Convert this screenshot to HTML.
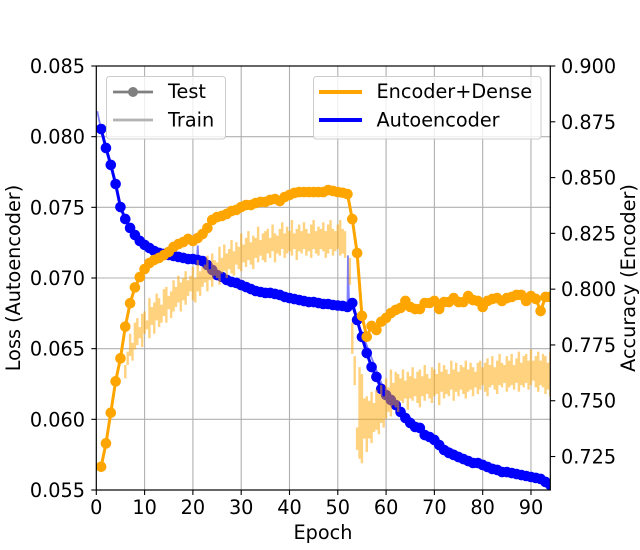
<!DOCTYPE html>
<html>
<head>
<meta charset="utf-8">
<title>Loss and accuracy chart</title>
<style>
html,body{margin:0;padding:0;background:#fff;}
svg{display:block;}
text{font-family:"DejaVu Sans","Liberation Sans",sans-serif;font-size:19.25px;fill:#000;}
</style>
</head>
<body>
<svg id="chart" width="640" height="550" viewBox="0 0 640 550" xmlns="http://www.w3.org/2000/svg">
  <defs><clipPath id="plot-clip"><rect x="96.3" y="66" width="454" height="424"/></clipPath></defs>
  <g id="grid"></g>
  <g id="marks" clip-path="url(#plot-clip)"></g>
  <g id="axes"></g>
  <g>
    <rect x="106.5" y="76.5" width="119" height="62.5" rx="3" fill="#fff" fill-opacity="0.8" stroke="#ccc" stroke-width="1"/>
    <line x1="113" x2="153" y1="92" y2="92" stroke="#808080" stroke-width="2.7"/>
    <circle cx="133" cy="92" r="5" fill="#808080"/>
    <text x="168" y="98">Test</text>
    <line x1="113" x2="153" y1="120" y2="120" stroke="#b3b3b3" stroke-width="2.7"/>
    <text x="168" y="126.5">Train</text>
  </g>
  <g>
    <rect x="313.5" y="76.5" width="227.5" height="62.5" rx="3" fill="#fff" fill-opacity="0.8" stroke="#ccc" stroke-width="1"/>
    <line x1="319" x2="362" y1="92" y2="92" stroke="#ffa500" stroke-width="4"/>
    <text x="376.5" y="98">Encoder+Dense</text>
    <line x1="319" x2="362" y1="120" y2="120" stroke="#0000ff" stroke-width="4"/>
    <text x="376.5" y="126.5">Autoencoder</text>
  </g>
  <text x="323" y="539" text-anchor="middle">Epoch</text>
  <text transform="translate(20 278) rotate(-90)" text-anchor="middle">Loss (Autoencoder)</text>
  <text transform="translate(635 278) rotate(-90)" text-anchor="middle">Accuracy (Encoder)</text>
</svg>
<script>
const xTicks = [0,10,20,30,40,50,60,70,80,90];
const lossTicks = ["0.055","0.060","0.065","0.070","0.075","0.080","0.085"];
const accTicks = ["0.725","0.750","0.775","0.800","0.825","0.850","0.875","0.900"];

const lossTest = [.08054,.0792,.078,.07665,.07502,.07417,.07354,.07304,.07262,.07234,
.07212,.07191,.07177,.0717,.07163,.07156,.07149,.07142,.07134,.07134,
.07127,.0712,.07092,.07057,.07021,.07007,.06986,.06972,.06965,.0695,
.06936,.06922,.06908,.06901,.06894,.06894,.06887,.0688,.06866,.06858,
.06851,.06844,.06837,.0683,.0683,.06823,.06816,.06816,.06809,.06805,
.06802,.06795,.06823,.06703,.06583,.06469,.0637,.063,.06215,.06172,
.06137,.06101,.06052,.06009,.05974,.05946,.05939,.05889,.05875,.05854,
.05818,.05783,.05762,.05748,.05733,.05719,.05705,.05691,.05691,.05677,
.05663,.05649,.05642,.05627,.05627,.0562,.05613,.05606,.05599,.05592,
.05585,.05578,.05557,.05535];

const accTest = [.7204,.7309,.7446,.7587,.769,.7832,.7937,.8008,.8054,.809,
.8117,.8131,.814,.8153,.8167,.8189,.8202,.8211,.8225,.8216,
.8229,.8247,.8274,.831,.8323,.8328,.8337,.835,.8355,.8368,
.8377,.8377,.8386,.8391,.8391,.84,.8404,.8395,.8413,.8422,
.8431,.8435,.8435,.8435,.8435,.8435,.8435,.8444,.844,.8435,
.8432,.8426,.8314,.8162,.788,.7787,.7835,.7817,.7854,.7871,
.7893,.7907,.7916,.7947,.792,.7911,.7911,.7938,.7938,.7947,
.7911,.7942,.7942,.796,.7942,.7942,.7969,.7951,.7947,.792,
.7947,.7956,.796,.7947,.796,.7965,.7974,.7974,.7947,.7969,
.7956,.7902,.7965,.7965];

const trainLossEpochs = [0.2,1,3,5,7,10,15,20,20.8,21,21.2,30,40,52,52.1,52.3,54,60,70,80,94];
const trainLossValues = [.0818,.0805,.078,.075,.0735,.0723,.0716,.0713,.0712,.0723,.0711,.0695,.0686,.068,.0716,.0686,.067,.0617,.0585,.0568,.0553];

const trainEpochsBeforeDrop = [6,6.5,7,7.5,8,8.5,9,9.5,10,10.5,11,11.5,12,12.5,13,13.5,14,14.5,15,15.5,16,16.5,17,17.5,18,18.5,19,19.5,20,20.5,21,21.5,22,22.5,23,23.5,24,24.5,25,25.5,26,26.5,27,27.5,28,28.5,29,29.5,30,30.5,31,31.5,32,32.5,33,33.5,34,34.5,35,35.5,36,36.5,37,37.5,38,38.5,39,39.5,40,40.5,41,41.5,42,42.5,43,43.5,44,44.5,45,45.5,46,46.5,47,47.5,48,48.5,49,49.5,50,50.5,51,51.5];
const trainHighBeforeDrop = [.766,.772,.780,.776,.785,.787,.783,.789,.790,.786,
.796,.792,.794,.798,.796,.793,.800,.801,.797,.799,
.804,.801,.806,.803,.805,.808,.804,.806,.810,.805,
.813,.808,.810,.811,.815,.809,.816,.813,.812,.819,
.814,.820,.816,.818,.822,.817,.821,.819,.825,.820,
.823,.826,.821,.824,.823,.828,.822,.825,.826,.827,
.823,.829,.825,.824,.827,.830,.825,.828,.826,.831,
.825,.827,.829,.826,.830,.827,.825,.829,.831,.826,
.828,.827,.830,.826,.829,.831,.827,.826,.829,.831,
.827,.826];
const trainLowBeforeDrop = [.760,.766,.770,.768,.773,.775,.778,.774,.780,.782,
.778,.784,.780,.786,.783,.785,.788,.785,.791,.787,
.790,.792,.794,.790,.795,.793,.797,.799,.795,.794,
.799,.797,.801,.803,.799,.804,.801,.806,.805,.802,
.807,.808,.805,.809,.807,.806,.811,.809,.808,.812,
.810,.813,.811,.809,.814,.812,.815,.813,.812,.816,
.814,.817,.812,.816,.815,.818,.814,.816,.817,.815,
.818,.813,.817,.816,.818,.815,.817,.814,.818,.816,
.815,.818,.817,.814,.816,.818,.815,.817,.818,.815,
.816,.814];

const trainEpochsAfterDrop = [52.5,53,53.5,54,54.5,55,55.5,56,56.5,57,57.5,58,58.5,59,59.5,60,60.5,61,61.5,62,62.5,63,63.5,64,64.5,65,65.5,66,66.5,67,67.5,68,68.5,69,69.5,70,70.5,71,71.5,72,72.5,73,73.5,74,74.5,75,75.5,76,76.5,77,77.5,78,78.5,79,79.5,80,80.5,81,81.5,82,82.5,83,83.5,84,84.5,85,85.5,86,86.5,87,87.5,88,88.5,89,89.5,90,90.5,91,91.5,92,92.5,93,93.5,94];
const trainHighAfterDrop = [.814,.785,.770,.738,.765,.762,.751,.752,.750,.754,
.749,.755,.753,.757,.752,.760,.756,.764,.758,.763,
.762,.760,.764,.759,.763,.761,.765,.760,.763,.764,
.761,.766,.762,.760,.765,.764,.762,.767,.763,.766,
.764,.762,.768,.764,.767,.763,.766,.765,.768,.764,
.767,.765,.763,.767,.768,.765,.767,.769,.766,.770,
.765,.768,.771,.767,.766,.770,.768,.771,.766,.769,
.772,.767,.770,.771,.768,.773,.768,.770,.772,.768,
.771,.770,.767,.772];
const trainLowAfterDrop = [.802,.771,.757,.728,.724,.722,.733,.727,.733,.731,
.736,.737,.735,.740,.738,.742,.745,.743,.748,.747,
.745,.750,.749,.751,.746,.751,.750,.752,.749,.747,
.752,.750,.753,.751,.749,.752,.753,.748,.754,.751,
.753,.752,.755,.750,.754,.752,.755,.753,.751,.754,
.755,.752,.756,.753,.755,.757,.754,.752,.756,.757,
.755,.753,.757,.756,.758,.754,.756,.757,.755,.758,
.754,.757,.756,.758,.755,.757,.759,.756,.754,.757,
.756,.753,.755,.752];

const SVGNS = "http://www.w3.org/2000/svg";
const plotLeft = 96.3, plotRight = 550.3, plotTop = 66, plotBottom = 490;
const xMin = 0, xMax = 94, lossMin = 0.055, lossMax = 0.085, accMin = 0.71, accMax = 0.90;

function xScale(v){ return plotLeft + (v - xMin) / (xMax - xMin) * (plotRight - plotLeft); }
function lossScale(v){ return plotBottom - (v - lossMin) / (lossMax - lossMin) * (plotBottom - plotTop); }
function accScale(v){ return plotBottom - (v - accMin) / (accMax - accMin) * (plotBottom - plotTop); }

function make(tag, parent){
  const el = document.createElementNS(SVGNS, tag);
  parent.appendChild(el);
  return el;
}
function linePath(xs, ys, sx, sy){
  return xs.map((x,i)=>(i?"L":"M")+sx(x).toFixed(2)+" "+sy(ys[i]).toFixed(2)).join("");
}
function bandPath(xs, hi, lo){
  let d = "";
  xs.forEach(function(x, i){
    const y = accScale(hi[i]).toFixed(2);
    d += (i ? "L" : "M") + xScale(x - 0.25).toFixed(2) + " " + y + "L" + xScale(x + 0.25).toFixed(2) + " " + y;
  });
  for(let i = xs.length-1; i >= 0; i--){
    const y = accScale(lo[i]).toFixed(2);
    d += "L" + xScale(xs[i] + 0.25).toFixed(2) + " " + y + "L" + xScale(xs[i] - 0.25).toFixed(2) + " " + y;
  }
  return d + "Z";
}
const gridG = document.getElementById("grid");
const marksG = document.getElementById("marks");
const axesG = document.getElementById("axes");

xTicks.forEach(function(t){
  const px = xScale(t);
  if(t > 0){
    const g = make("line", gridG);
    
    
    g.setAttribute("x1", px); g.setAttribute("x2", px);
    g.setAttribute("y1", plotTop); g.setAttribute("y2", plotBottom);
    g.setAttribute("stroke", "#b0b0b0"); g.setAttribute("stroke-width", "1.1");
  }
  const k = make("line", axesG);
  
  
  k.setAttribute("x1", px); k.setAttribute("x2", px);
  k.setAttribute("y1", plotBottom); k.setAttribute("y2", plotBottom + 5);
  k.setAttribute("stroke", "#000"); k.setAttribute("stroke-width", "1.1");
  const l = make("text", axesG);
  
  
  l.setAttribute("x", px); l.setAttribute("y", 514);
  l.setAttribute("text-anchor", "middle");
  l.textContent = t;
});
lossTicks.forEach(function(t){
  const py = lossScale(parseFloat(t));
  if(py > plotTop + 1 && py < plotBottom - 1){
    const g = make("line", gridG);
    
    
    g.setAttribute("x1", plotLeft); g.setAttribute("x2", plotRight);
    g.setAttribute("y1", py); g.setAttribute("y2", py);
    g.setAttribute("stroke", "#b0b0b0"); g.setAttribute("stroke-width", "1.1");
  }
  const k = make("line", axesG);
  
  
  k.setAttribute("x1", plotLeft - 5); k.setAttribute("x2", plotLeft);
  k.setAttribute("y1", py); k.setAttribute("y2", py);
  k.setAttribute("stroke", "#000"); k.setAttribute("stroke-width", "1.1");
  const l = make("text", axesG);
  
  
  l.setAttribute("x", 85); l.setAttribute("y", py + 7);
  l.setAttribute("text-anchor", "end");
  l.textContent = t;
});
accTicks.forEach(function(t){
  const py = accScale(parseFloat(t));
  const k = make("line", axesG);
  
  
  k.setAttribute("x1", plotRight); k.setAttribute("x2", plotRight + 5);
  k.setAttribute("y1", py); k.setAttribute("y2", py);
  k.setAttribute("stroke", "#000"); k.setAttribute("stroke-width", "1.1");
  const l = make("text", axesG);
  
  
  l.setAttribute("x", 561); l.setAttribute("y", py + 7);
  l.textContent = t;
});
const frame = make("rect", axesG);


frame.setAttribute("x", plotLeft); frame.setAttribute("y", plotTop);
frame.setAttribute("width", plotRight - plotLeft); frame.setAttribute("height", plotBottom - plotTop);
frame.setAttribute("fill", "none"); frame.setAttribute("stroke", "#000"); frame.setAttribute("stroke-width", "1.2");

const epochs = lossTest.map((_, i) => i + 1);

const trainLossLine = make("path", marksG);


trainLossLine.setAttribute("d", linePath(trainLossEpochs, trainLossValues, xScale, lossScale));
trainLossLine.setAttribute("fill", "none"); trainLossLine.setAttribute("stroke", "#0000ff");
trainLossLine.setAttribute("stroke-width", "1.8"); trainLossLine.setAttribute("stroke-opacity", "0.5");

const lossLine = make("path", marksG);


lossLine.setAttribute("d", linePath(epochs, lossTest, xScale, lossScale));
lossLine.setAttribute("fill", "none"); lossLine.setAttribute("stroke", "#0000ff"); lossLine.setAttribute("stroke-width", "3");

lossTest.forEach(function(v, i){
  const c = make("circle", marksG);
  
  
  c.setAttribute("cx", xScale(i + 1)); c.setAttribute("cy", lossScale(v)); c.setAttribute("r", "5.3");
  c.setAttribute("fill", "#0000ff");
});

const bandA = make("path", marksG);


bandA.setAttribute("d", bandPath(trainEpochsBeforeDrop, trainHighBeforeDrop, trainLowBeforeDrop));
bandA.setAttribute("fill", "#ffa500"); bandA.setAttribute("fill-opacity", "0.5");

const bandB = make("path", marksG);


bandB.setAttribute("d", bandPath(trainEpochsAfterDrop, trainHighAfterDrop, trainLowAfterDrop));
bandB.setAttribute("fill", "#ffa500"); bandB.setAttribute("fill-opacity", "0.5");

const accLine = make("path", marksG);


accLine.setAttribute("d", linePath(epochs, accTest, xScale, accScale));
accLine.setAttribute("fill", "none"); accLine.setAttribute("stroke", "#ffa500"); accLine.setAttribute("stroke-width", "3");

accTest.forEach(function(v, i){
  const c = make("circle", marksG);
  
  
  c.setAttribute("cx", xScale(i + 1)); c.setAttribute("cy", accScale(v)); c.setAttribute("r", "5.3");
  c.setAttribute("fill", "#ffa500");
});
</script>
</body>
</html>
